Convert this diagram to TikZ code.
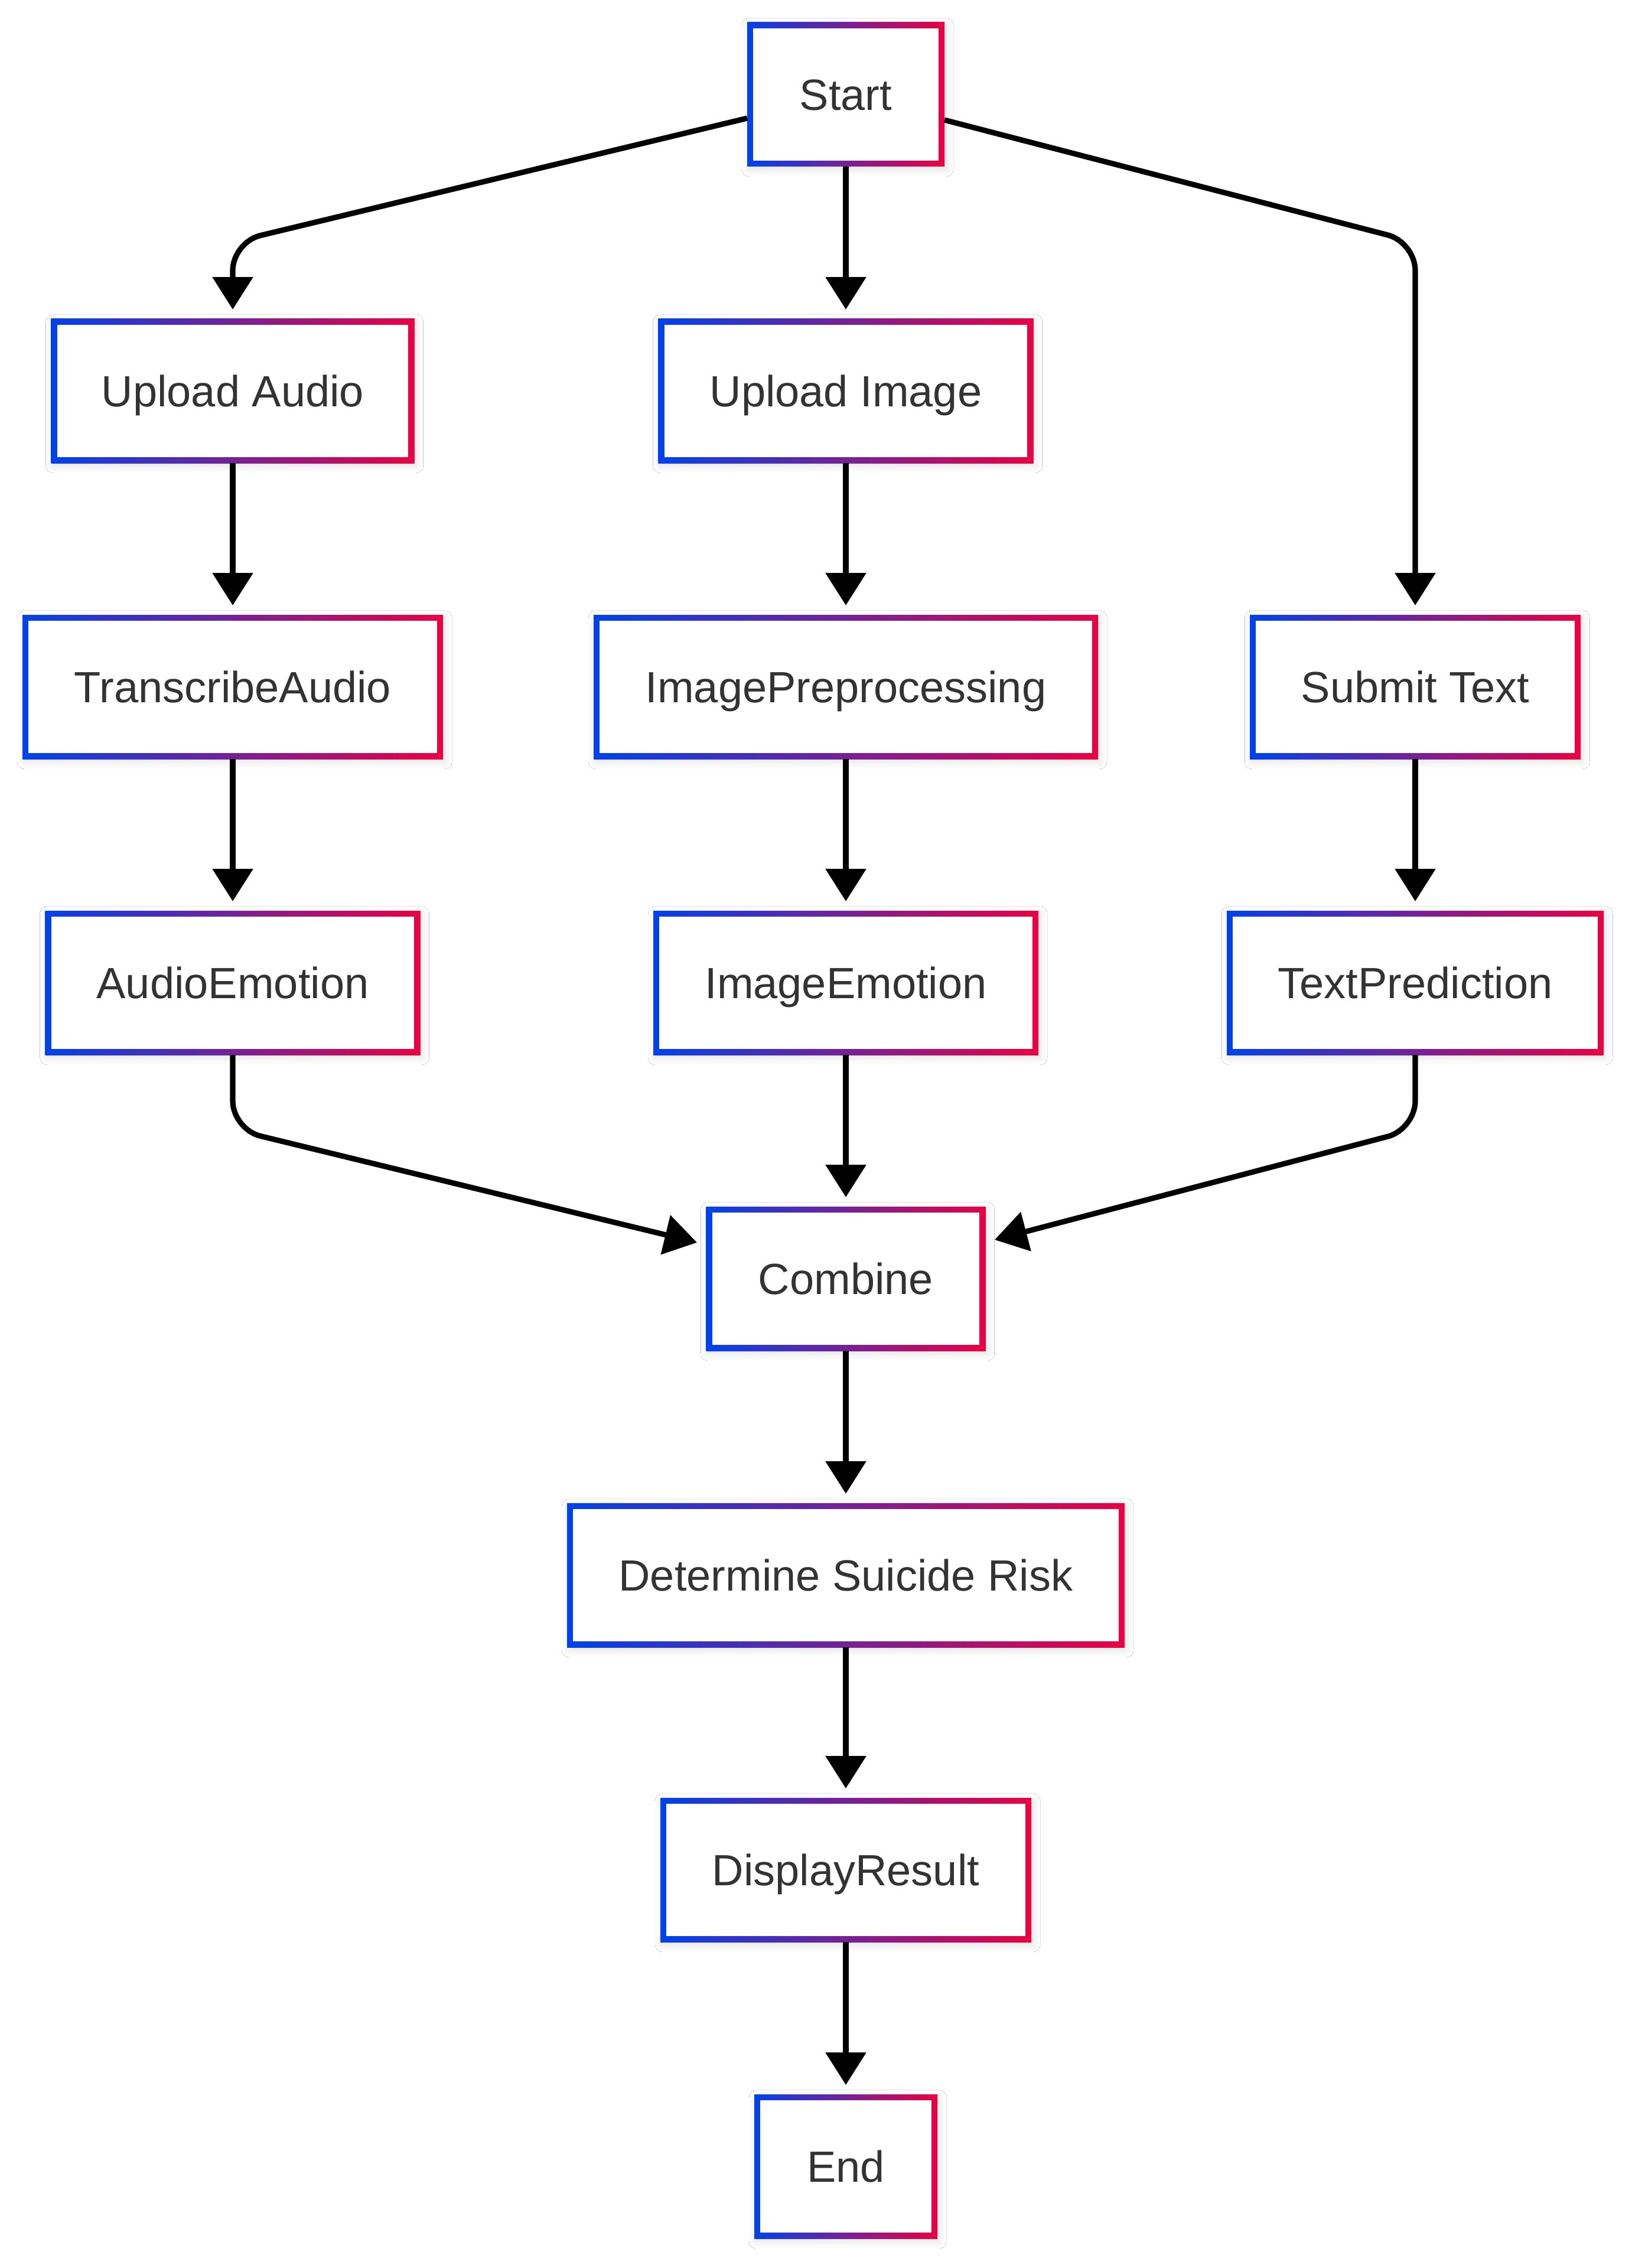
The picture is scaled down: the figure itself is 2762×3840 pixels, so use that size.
\documentclass[tikz,border=0pt]{standalone}
\usepackage{fontspec}
\setmainfont{Liberation Sans}
\usetikzlibrary{arrows.meta,shadows.blur}
\definecolor{gblue}{RGB}{0,66,235}
\definecolor{gred}{RGB}{235,0,66}
\definecolor{txt}{RGB}{51,51,51}
\tikzset{
  box/.style={rectangle, inner sep=0pt, outer sep=0pt, minimum height=61pt,
    text height=13.3pt, text depth=0pt,
    left color=gblue, right color=gred, text=txt,
    font=\fontsize{18.5}{22}\selectfont,
    blur shadow={shadow xshift=0.8pt, shadow yshift=-1.2pt, shadow blur radius=3pt, shadow opacity=12},
    path picture={\fill[white] ([shift={(2.6pt,-2.6pt)}]path picture bounding box.north west)
      rectangle ([shift={(-2.6pt,2.6pt)}]path picture bounding box.south east);}},
  arr/.style={draw=black, line width=2.3pt, -{Triangle[width=16.7pt,length=13.7pt]},
    shorten >=4pt, rounded corners=12pt}
}
\begin{document}
\begin{tikzpicture}[x=0.25pt, y=-0.25pt]
\fill[white] (0,0) rectangle (2762,3840);
\useasboundingbox (0,0) rectangle (2762,3840);
% nodes
\node[box, minimum width=83.5pt]  (start) at (1432,160) {Start};
\node[box, minimum width=153.75pt] (ua) at (394,662) {Upload Audio};
\node[box, minimum width=158.75pt] (ui) at (1432,662) {Upload Image};
\node[box, minimum width=178pt]   (ta) at (394,1163) {TranscribeAudio};
\node[box, minimum width=213.5pt] (ip) at (1432,1163) {ImagePreprocessing};
\node[box, minimum width=140pt]   (st) at (2396,1163) {Submit Text};
\node[box, minimum width=158.75pt] (ae) at (394,1664) {AudioEmotion};
\node[box, minimum width=163pt]   (ie) at (1432,1664) {ImageEmotion};
\node[box, minimum width=159.5pt] (tp) at (2396,1664) {TextPrediction};
\node[box, minimum width=118.25pt] (co) at (1432,2165) {Combine};
\node[box, minimum width=236pt]   (dsr) at (1432,2667) {Determine Suicide Risk};
\node[box, minimum width=157pt]   (dr) at (1432,3166) {DisplayResult};
\node[box, minimum width=77.5pt]  (en) at (1432,3668) {End};
% bend coordinates
\coordinate (c1) at (394,410);
\coordinate (c2) at (2396,410);
\coordinate (c3) at (394,1912);
\coordinate (c4) at (2396,1912);
% connectors
\draw[arr] (start) -- (c1) -- (ua.north);
\draw[arr] (start.south) -- (ui.north);
\draw[arr] (start) -- (c2) -- (st.north);
\draw[arr] (ua.south) -- (ta.north);
\draw[arr] (ta.south) -- (ae.north);
\draw[arr] (ui.south) -- (ip.north);
\draw[arr] (ip.south) -- (ie.north);
\draw[arr] (st.south) -- (tp.north);
\draw[arr] (ae.south) -- (c3) -- (co);
\draw[arr] (ie.south) -- (co.north);
\draw[arr] (tp.south) -- (c4) -- (co);
\draw[arr] (co.south) -- (dsr.north);
\draw[arr] (dsr.south) -- (dr.north);
\draw[arr] (dr.south) -- (en.north);
\end{tikzpicture}
\end{document}
